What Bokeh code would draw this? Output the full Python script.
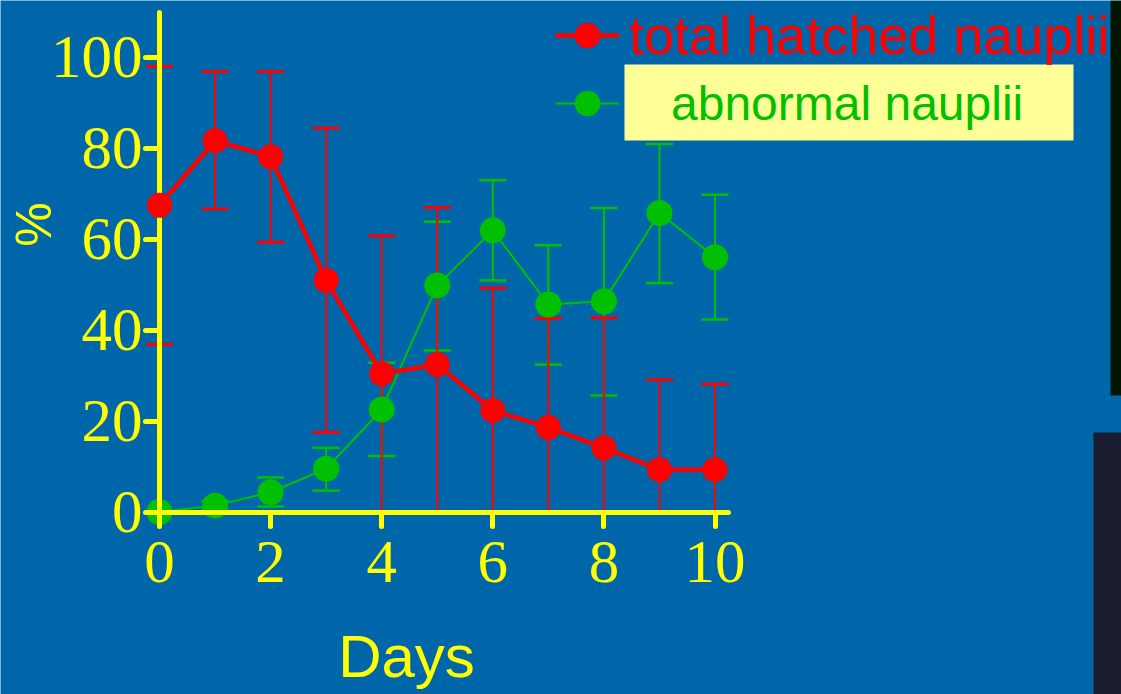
import numpy as np
from bokeh.plotting import figure
from bokeh.models import (Range1d, FixedTicker, ColumnDataSource, Whisker, TeeHead,
                          Legend, LegendItem, Label, BoxAnnotation)
from bokeh.embed import file_html
from bokeh.resources import INLINE

# ---- data ----
days = [0, 1, 2, 3, 4, 5, 6, 7, 8, 9, 10]
total_mean = [67.4, 81.6, 78.1, 50.9, 30.4, 32.4, 22.3, 18.6, 14.1, 9.3, 9.3]
total_upper = [97.9, 96.8, 96.8, 84.4, 60.7, 66.9, 49.2, 42.5, 42.7, 29.1, 28.1]
total_lower = [36.8, 66.6, 59.3, 17.5, 0, 0, 0, 0, 0, 0, 0]
abn_mean = [0, 1.4, 4.35, 9.5, 22.5, 49.8, 61.9, 45.6, 46.3, 65.7, 56.0]
abn_upper = [0, 2.4, 7.6, 14.1, 32.8, 63.8, 72.9, 58.6, 66.8, 80.9, 69.7]
abn_lower = [0, 0.4, 1.2, 4.7, 12.3, 35.5, 50.9, 32.4, 25.6, 50.3, 42.3]
x_ticks = [0, 2, 4, 6, 8, 10]
y_ticks = [0, 20, 40, 60, 80, 100]
x_label = "Days"
y_label = "%"
names = ["total hatched nauplii", "abnormal nauplii"]

BG = "#0066AA"
YEL = "#FFFF00"
RED = "#FF0000"
GRN = "#00C000"

W, H = 1121, 694
X0, Y0, SX, SY = 159.0, 511.5, 55.55, 4.55

p = figure(width=W, height=H, output_backend="svg", toolbar_location=None,
           x_range=Range1d(-X0 / SX, (W - X0) / SX),
           y_range=Range1d((Y0 - H) / SY, Y0 / SY),
           min_border=0, title=None)
p.background_fill_color = BG
p.border_fill_color = BG
p.outline_line_color = None
p.xgrid.visible = False
p.ygrid.visible = False

for ax, ticks, bnds in ((p.xaxis[0], x_ticks, (0, 10.24)), (p.yaxis[0], y_ticks, (0, 109.8))):
    ax.fixed_location = 0
    ax.bounds = bnds
    ax.ticker = FixedTicker(ticks=ticks)
    ax.axis_line_color = YEL
    ax.axis_line_width = 5
    ax.axis_line_cap = "round"
    ax.major_tick_line_color = YEL
    ax.major_tick_line_width = 5
    ax.major_tick_line_cap = "round"
    ax.major_tick_out = 14
    ax.major_tick_in = 0
    ax.minor_tick_line_color = None
    ax.major_label_text_color = YEL
    ax.major_label_text_font = "Liberation Serif"
    ax.major_label_text_font_size = "61px"
p.xaxis.major_label_standoff = 16
p.yaxis.major_label_standoff = 3

src_t = ColumnDataSource(dict(x=days, y=total_mean, upper=total_upper, lower=total_lower))
src_a = ColumnDataSource(dict(x=days, y=abn_mean, upper=abn_upper, lower=abn_lower))

wt = Whisker(base="x", upper="upper", lower="lower", source=src_t, level="underlay",
             line_color=RED, line_width=2,
             upper_head=TeeHead(size=27, line_color=RED, line_width=3),
             lower_head=TeeHead(size=27, line_color=RED, line_width=3))
wa = Whisker(base="x", upper="upper", lower="lower", source=src_a, level="underlay",
             line_color=GRN, line_width=2,
             upper_head=TeeHead(size=27, line_color=GRN, line_width=2.5),
             lower_head=TeeHead(size=27, line_color=GRN, line_width=2.5))
p.add_layout(wa)
p.add_layout(wt)

ga_line = p.line("x", "y", source=src_a, line_color=GRN, line_width=2)
ga_pts = p.scatter("x", "y", source=src_a, size=26, fill_color=GRN, line_color=None)
gt_line = p.line("x", "y", source=src_t, line_color=RED, line_width=4.5)
gt_pts = p.scatter("x", "y", source=src_t, size=25, fill_color=RED, line_color=None,
                   level="annotation")

# decorative slide patches
p.add_layout(BoxAnnotation(left=1110, right=1121, bottom=299, top=694,
                           left_units="screen", right_units="screen",
                           bottom_units="screen", top_units="screen",
                           fill_color="#001500", fill_alpha=1, line_color=None))
p.add_layout(BoxAnnotation(left=1093, right=1121, bottom=0, top=262,
                           left_units="screen", right_units="screen",
                           bottom_units="screen", top_units="screen",
                           fill_color="#1A1C30", fill_alpha=1, line_color=None))
# yellow box behind second legend label
p.add_layout(BoxAnnotation(left=624, right=1073, bottom=554, top=630,
                           left_units="screen", right_units="screen",
                           bottom_units="screen", top_units="screen",
                           fill_color="#FFFF99", fill_alpha=1, line_color=None))

def mk_legend(label, rends, color, size, standoff, loc):
    lg = Legend(items=[LegendItem(label=label, renderers=rends)], location=loc,
                glyph_width=64, glyph_height=64, label_standoff=standoff,
                label_text_color=color, label_text_font="Liberation Sans",
                label_text_font_size=size, padding=0, margin=0, spacing=0,
                border_line_color=None, background_fill_alpha=0)
    return lg

p.add_layout(mk_legend(names[0], [gt_line, gt_pts], RED, "54px", 10, (555, 627)))
p.add_layout(mk_legend(names[1], [ga_line, ga_pts], GRN, "48px", 52, (555, 558.7)))

p.add_layout(Label(x=406, y=38, x_units="screen", y_units="screen", text=x_label,
                   text_align="center", text_baseline="middle", text_color=YEL,
                   text_font="Liberation Sans", text_font_size="60px"))
p.add_layout(Label(x=33.5, y=470, x_units="screen", y_units="screen", text=y_label,
                   angle=np.pi / 2, text_align="center", text_baseline="middle",
                   text_color=YEL, text_font="Liberation Sans", text_font_size="50px"))

open("out.html", "w").write(file_html(p, INLINE))
